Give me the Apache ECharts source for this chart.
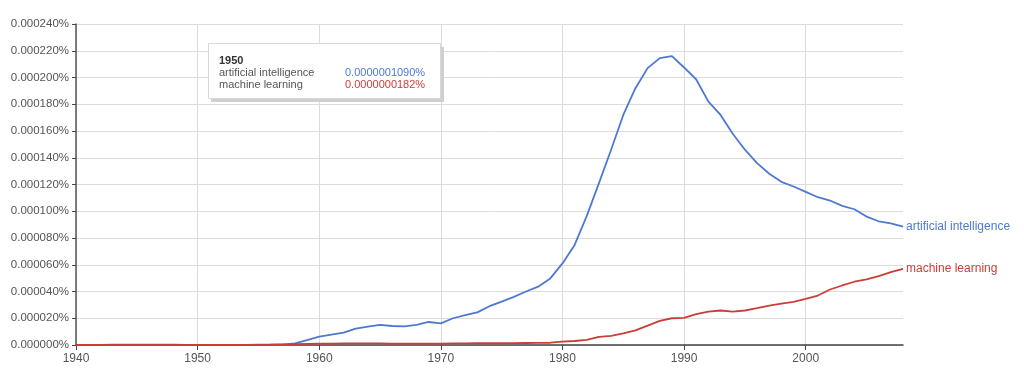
<!DOCTYPE html>
<html>
<head>
<meta charset="utf-8">
<script src="https://cdn.jsdelivr.net/npm/echarts@6/dist/echarts.min.js"></script>
<style>
html,body{margin:0;padding:0;background:#fff;}
#c{width:1024px;height:375px;}
</style>
</head>
<body>
<div id="c"></div>
<script>
// Years 1940..2008
var years = [];
for (var y = 1940; y <= 2008; y++) years.push(y);

var seriesNames = ['artificial intelligence', 'machine learning'];

// values in percent
var aiValues = [
  0.0000001, 0.0000001, 0.0000001, 0.0000002, 0.0000002, 0.0000002, 0.0000002, 0.0000002, 0.0000002, 0.0000001, // 1940-1949
  0.0000001090, 0.0000001, 0.0000001, 0.0000001, 0.0000001, 0.0000002, 0.0000002, 0.0000003, 0.0000012, 0.0000037, // 1950-1959
  0.0000062, 0.0000077, 0.0000092, 0.0000122, 0.0000137, 0.0000150, 0.0000142, 0.0000140, 0.0000150, 0.0000172, // 1960-1969
  0.0000162, 0.0000200, 0.0000224, 0.0000244, 0.0000290, 0.0000324, 0.0000360, 0.0000400, 0.0000436, 0.0000498, // 1970-1979
  0.0000610, 0.0000748, 0.0000965, 0.0001210, 0.0001460, 0.0001720, 0.0001920, 0.0002070, 0.0002145, 0.0002160, // 1980-1989
  0.0002075, 0.0001985, 0.0001820, 0.0001720, 0.0001580, 0.0001460, 0.0001360, 0.0001280, 0.0001220, 0.0001185, // 1990-1999
  0.0001145, 0.0001105, 0.0001080, 0.0001040, 0.0001015, 0.0000960, 0.0000925, 0.0000910, 0.0000885              // 2000-2008
];
var mlValues = [
  0.0000000, 0.0000000, 0.0000000, 0.0000001, 0.0000001, 0.0000001, 0.0000001, 0.0000001, 0.0000001, 0.0000001, // 1940-1949
  0.0000000182, 0.0000000, 0.0000000, 0.0000000, 0.0000000, 0.0000001, 0.0000002, 0.0000004, 0.0000006, 0.0000008, // 1950-1959
  0.0000010, 0.0000011, 0.0000012, 0.0000012, 0.0000012, 0.0000012, 0.0000011, 0.0000011, 0.0000011, 0.0000011, // 1960-1969
  0.0000011, 0.0000012, 0.0000012, 0.0000013, 0.0000013, 0.0000013, 0.0000014, 0.0000015, 0.0000016, 0.0000017, // 1970-1979
  0.0000025, 0.0000030, 0.0000038, 0.0000060, 0.0000068, 0.0000087, 0.0000110, 0.0000145, 0.0000180, 0.0000200, // 1980-1989
  0.0000203, 0.0000230, 0.0000250, 0.0000258, 0.0000250, 0.0000258, 0.0000275, 0.0000295, 0.0000310, 0.0000323, // 1990-1999
  0.0000344, 0.0000370, 0.0000415, 0.0000445, 0.0000473, 0.0000490, 0.0000515, 0.0000545, 0.0000570              // 2000-2008
];

var xTicks = [1940, 1950, 1960, 1970, 1980, 1990, 2000];
var tooltipYear = 1950;

var colors = ['#4e79d0', '#cc3d37'];
var font = '"Liberation Sans", Arial, sans-serif';

function pairs(vals) {
  return years.map(function (yr, i) { return [yr, vals[i]]; });
}

var idx = years.indexOf(tooltipYear);
var tipAi = aiValues[idx].toFixed(10) + '%';
var tipMl = mlValues[idx].toFixed(10) + '%';

var chart = echarts.init(document.getElementById('c'), null, {renderer: 'canvas'});
chart.setOption({
  animation: false,
  backgroundColor: '#fff',
  grid: {left: 76, right: 121, top: 24, bottom: 30, containLabel: false},
  xAxis: {
    type: 'value',
    min: 1940, max: 2008, interval: 10,
    axisLine: {show: true, lineStyle: {color: '#444', width: 1.5}},
    axisTick: {show: true, length: 5, lineStyle: {color: '#444'}, customValues: xTicks},
    axisLabel: {color: '#555', fontSize: 12, fontFamily: font, margin: 8,
      customValues: xTicks, formatter: function (v) { return String(v); }},
    splitLine: {show: true, lineStyle: {color: '#dcdcdc', width: 1}}
  },
  yAxis: {
    type: 'value',
    min: 0, max: 0.00024, interval: 0.00002,
    axisLine: {show: true, lineStyle: {color: '#555', width: 1.5}},
    axisTick: {show: true, inside: false, length: 4, lineStyle: {color: '#444'}},
    axisLabel: {color: '#555', fontSize: 11.5, fontFamily: font, margin: 7,
      formatter: function (v) { return v.toFixed(6) + '%'; }},
    splitLine: {show: true, lineStyle: {color: '#dcdcdc', width: 1}}
  },
  series: [
    {
      name: seriesNames[0], type: 'line', data: pairs(aiValues), showSymbol: false,
      lineStyle: {color: colors[0], width: 1.8}, itemStyle: {color: colors[0]},
      endLabel: {show: true, formatter: '{a}', color: colors[0], fontSize: 12, fontFamily: font, distance: 3}
    },
    {
      name: seriesNames[1], type: 'line', data: pairs(mlValues), showSymbol: false,
      lineStyle: {color: colors[1], width: 1.8}, itemStyle: {color: colors[1]},
      endLabel: {show: true, formatter: '{a}', color: colors[1], fontSize: 12, fontFamily: font, distance: 3}
    }
  ],
  graphic: [
    {type: 'rect', left: 211, top: 47, z: 100, shape: {width: 233, height: 55}, style: {fill: '#cfcfcf'}},
    {type: 'rect', left: 208, top: 43, z: 101, shape: {width: 232, height: 55}, style: {fill: '#fff', stroke: '#d8d8d8', lineWidth: 1}},
    {type: 'text', left: 219, top: 55, z: 102, style: {text: String(tooltipYear), font: 'bold 11px ' + font, fill: '#333'}},
    {type: 'text', left: 219, top: 67, z: 102, style: {text: seriesNames[0], font: '11px ' + font, fill: '#555'}},
    {type: 'text', left: 219, top: 79, z: 102, style: {text: seriesNames[1], font: '11px ' + font, fill: '#555'}},
    {type: 'text', left: 345, top: 67, z: 102, style: {text: tipAi, font: '11px ' + font, fill: colors[0]}},
    {type: 'text', left: 345, top: 79, z: 102, style: {text: tipMl, font: '11px ' + font, fill: colors[1]}}
  ]
});
</script>
</body>
</html>
